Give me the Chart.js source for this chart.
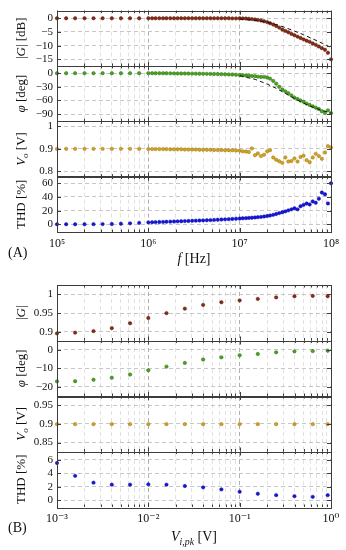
<!DOCTYPE html>
<html>
<head>
<meta charset="utf-8">
<script src="https://cdn.jsdelivr.net/npm/chart.js@4.4.1/dist/chart.umd.min.js"></script>
<style>
  body { margin: 0; background: #fff; width: 346px; height: 550px; position: relative; overflow: hidden; font-family: "Liberation Serif", serif; }
  canvas { position: absolute; left: 0; }
  #chartA { top: 0; }
  #chartB { top: 270px; }
  .tag { position: absolute; left: 8px; font-size: 14px; color: #111; }
</style>
</head>
<body>
<canvas id="chartA" width="346" height="268"></canvas>
<canvas id="chartB" width="346" height="280"></canvas>
<div class="tag" style="top:245px">(A)</div>
<div class="tag" style="top:520px">(B)</div>
<script>
// (A) frequency sweep
const freqA = [
  1e5, 1.26e5, 1.58e5, 2e5, 2.51e5, 3.16e5, 3.98e5, 5.01e5, 6.31e5, 7.94e5,
  1e6, 1.1e6, 1.2e6, 1.32e6, 1.45e6, 1.58e6, 1.74e6, 1.91e6, 2.09e6, 2.29e6, 2.51e6, 2.75e6, 3.02e6,
  3.31e6, 3.63e6, 3.98e6, 4.37e6, 4.79e6, 5.25e6, 5.75e6, 6.31e6, 6.92e6, 7.59e6, 8.32e6, 9.12e6,
  1e7, 1.08e7, 1.17e7, 1.26e7, 1.36e7, 1.47e7, 1.58e7, 1.71e7, 1.85e7, 2e7, 2.15e7, 2.33e7, 2.51e7,
  2.71e7, 2.93e7, 3.16e7, 3.41e7, 3.69e7, 3.98e7, 4.3e7, 4.64e7, 5.01e7, 5.41e7, 5.84e7, 6.31e7,
  6.81e7, 7.36e7, 7.94e7, 8.58e7, 9.26e7, 1e8
];
const gainA = [
  0, 0, 0, 0, 0, 0, 0, 0, 0, 0,
  0, 0, 0, 0, 0, 0, 0, 0, 0, 0, 0, 0, 0, 0, 0, 0, 0, 0, 0, 0, 0, 0, 0, -0.05, -0.05,
  0, -0.05, -0.1, -0.2, -0.3, -0.45, -0.6, -0.8, -1.1, -1.4, -1.8, -2.3, -2.8, -3.4, -4.1, -4.6,
  -5.1, -5.7, -6.2, -6.7, -7.2, -7.7, -8.2, -8.6, -9.2, -9.7, -10.3, -10.9, -11.5, -12.6, -15.0
];
const phaseA = [
  0, 0, 0, 0, 0, 0, 0, 0, 0, 0,
  0, 0, 0, 0, 0, -0.2, -0.3, -0.4, -0.5, -0.6, -0.7, -0.8, -0.9, -1, -1.1, -1.2, -1.4, -1.5, -1.7,
  -1.9, -2.1, -2.4, -2.7, -3.0, -3.4,
  -4, -4.5, -5, -5.5, -6, -6.5, -7.5, -8.5, -8, -9.5, -12, -17, -23, -30, -36, -40, -44, -49, -54,
  -57, -60, -63, -67, -70, -73, -76, -79, -84, -87, -82, -88
];
const voA = [
  0.9, 0.9, 0.9, 0.9, 0.9, 0.9, 0.9, 0.9, 0.9, 0.9,
  0.899, 0.899, 0.899, 0.899, 0.899, 0.899, 0.898, 0.898, 0.898, 0.898, 0.897, 0.897, 0.897,
  0.897, 0.896, 0.896, 0.896, 0.896, 0.895, 0.895, 0.895, 0.894, 0.894, 0.894, 0.893,
  0.892, 0.889, 0.888, 0.886, 0.902, 0.872, 0.880, 0.868, 0.874, 0.889, 0.894, 0.862, 0.852,
  0.845, 0.838, 0.862, 0.844, 0.846, 0.858, 0.844, 0.864, 0.870, 0.850, 0.841, 0.862, 0.878,
  0.868, 0.856, 0.884, 0.912, 0.906
];
const thdA = [
  0.3, 0.3, 0.3, 0.3, 0.4, 0.5, 0.6, 1.0, 1.6, 2.3,
  3.0, 3.2, 3.4, 3.5, 3.7, 3.9, 4.1, 4.3, 4.5, 4.7, 4.9, 5.1, 5.3, 5.5, 5.7, 5.9, 6.1, 6.3, 6.6,
  6.9, 7.1, 7.4, 7.7, 8.0, 8.3,
  8.6, 9.0, 9.2, 9.5, 9.8, 10.2, 10.6, 11.0, 11.6, 12.2, 13.0, 14.0, 15.2, 16.5, 17.8, 19.0,
  20.5, 22.0, 23.5, 22.0, 26.5, 28.5, 30.5, 29.0, 33.5, 31.5, 37.5, 46.5, 44.0, 30.5, 60
];
// model curves (dashed)
const fitFreq = [1e7, 1.5e7, 2e7, 2.5e7, 3e7, 4e7, 5e7, 6e7, 7e7, 8e7, 9e7, 1e8];
const fitGain = [-0.3, -0.8, -1.5, -2.3, -3.1, -4.7, -6.0, -7.2, -8.2, -9.1, -9.9, -10.7];
const fitPhase = [-5.5, -14, -24, -33, -42, -56, -66, -73, -78, -82, -85, -88];

// (B) amplitude sweep
const vinB = [0.001, 0.00158, 0.00251, 0.00398, 0.00631, 0.01, 0.0158, 0.0251, 0.0398, 0.0631, 0.1, 0.158, 0.251, 0.398, 0.631, 0.92];
const gainB = [0.896, 0.898, 0.902, 0.910, 0.923, 0.937, 0.950, 0.962, 0.972, 0.979, 0.984, 0.988, 0.992, 0.995, 0.996, 0.995];
const phaseB = [-17.1, -17.0, -16.2, -15.1, -13.4, -11.1, -9.1, -7.1, -5.3, -4.1, -3.0, -2.3, -1.4, -0.9, -0.7, -0.5];
const voB = [0.899, 0.899, 0.899, 0.899, 0.899, 0.899, 0.899, 0.899, 0.899, 0.899, 0.899, 0.899, 0.899, 0.899, 0.899, 0.899];
const thdB = [5.5, 3.6, 2.6, 2.3, 2.3, 2.35, 2.3, 2.1, 1.9, 1.6, 1.25, 0.95, 0.75, 0.6, 0.5, 0.75];

// tick labels
const decadesA = [5, 6, 7, 8];
const decadeLabelsA = ['10\u2075', '10\u2076', '10\u2077', '10\u2078'];
const decadesB = [-3, -2, -1, 0];
const decadeLabelsB = ['10\u207B\u00B3', '10\u207B\u00B2', '10\u207B\u00B9', '10\u2070'];
const ticksGainA = [-15, -10, -5, 0];
const ticksPhaseA = [-90, -60, -30, 0];
const ticksVoA = [0.8, 0.9, 1];
const ticksThdA = [0, 20, 40, 60];
const ticksGainB = [0.9, 0.95, 1];
const ticksPhaseB = [-20, -10, 0];
const ticksVoB = [0.85, 0.9, 0.95];
const ticksThdB = [0, 2, 4, 6];

const SERIF = '"Liberation Serif", "DejaVu Serif", serif';
const INK = '#111';

function isDecade(v) {
  const l = Math.log10(v);
  return Math.abs(l - Math.round(l)) < 1e-6;
}

// log grid: 1..9 x 10^e
function logTicks(lo, hi) {
  const out = [];
  for (let e = lo; e < hi; e++) for (let m = 1; m < 10; m++) out.push(m * Math.pow(10, e));
  out.push(Math.pow(10, hi));
  return out;
}

// draws a title made of normal / italic / subscript parts
function rich(ctx, parts, x, y, rot, size) {
  ctx.save();
  ctx.translate(x, y);
  ctx.rotate(rot);
  const fontOf = p => (p.it ? 'italic ' : '') + (p.sub ? size * 0.7 : size) + 'px ' + SERIF;
  let w = 0;
  parts.forEach(p => { ctx.font = fontOf(p); w += ctx.measureText(p.t).width; });
  let cx = -w / 2;
  ctx.fillStyle = INK;
  ctx.textBaseline = 'alphabetic';
  parts.forEach(p => {
    ctx.font = fontOf(p);
    ctx.fillText(p.t, cx, size * 0.35 + (p.sub ? size * 0.28 : 0));
    cx += ctx.measureText(p.t).width;
  });
  ctx.restore();
}

// frame around each panel, inward ticks, titles
const framePlugin = {
  id: 'frame',
  afterDraw(chart) {
    const { ctx, chartArea: a, scales } = chart;
    const info = chart.config.options.titles;
    const xs = scales.x;
    ctx.save();
    ctx.strokeStyle = '#3c3c3c';
    ctx.lineWidth = 1;
    info.panels.forEach(p => {
      const s = scales[p.id];
      ctx.beginPath();
      xs.ticks.forEach(t => {
        const x = Math.round(xs.getPixelForValue(t.value)) + 0.5;
        const len = isDecade(t.value) ? 4 : 2.5;
        ctx.moveTo(x, s.top); ctx.lineTo(x, s.top + len);
        ctx.moveTo(x, s.bottom); ctx.lineTo(x, s.bottom - len);
      });
      s.ticks.forEach(t => {
        const y = Math.round(s.getPixelForValue(t.value)) + 0.5;
        ctx.moveTo(a.left, y); ctx.lineTo(a.left + 4, y);
        ctx.moveTo(a.right, y); ctx.lineTo(a.right - 4, y);
      });
      ctx.stroke();
      ctx.strokeRect(Math.round(a.left) + 0.5, Math.round(s.top) + 0.5, Math.round(a.right - a.left), Math.round(s.bottom - s.top));
      rich(ctx, p.title, info.yTitleX, (s.top + s.bottom) / 2, -Math.PI / 2, 13);
    });
    rich(ctx, info.xTitle, (a.left + a.right) / 2, info.xTitleY, 0, 14);
    ctx.restore();
  }
};

function yAxis(min, max, ticks) {
  return {
    type: 'linear', position: 'left', stack: 'panels', stackWeight: 1, min: min, max: max,
    afterBuildTicks: s => { s.ticks = ticks.map(v => ({ value: v })); },
    afterFit: s => { s.width = 47; },
    grid: { color: '#b9b9b9', lineWidth: 0.8, drawTicks: false },
    border: { display: false, dash: [4, 3] },
    ticks: {
      autoSkip: false, padding: 4, color: INK, font: { family: SERIF, size: 11 },
      callback: v => String(v).replace('-', '\u2212')
    }
  };
}

function build(id, cfg) {
  const datasets = [];
  cfg.fits.forEach(f => datasets.push({
    type: 'line', data: f.xs.map((x, i) => ({ x: x, y: f.ys[i] })), yAxisID: f.axis,
    borderColor: '#111', borderWidth: 1, borderDash: [4, 3], pointRadius: 0, fill: false, clip: false
  }));
  cfg.panels.forEach(p => datasets.push({
    data: cfg.xs.map((x, i) => ({ x: x, y: p.ys[i] })), yAxisID: p.id,
    backgroundColor: p.color, borderColor: p.edge, borderWidth: 0.5, pointRadius: 1.7, clip: false
  }));

  const scales = {
    x: {
      type: 'logarithmic', min: cfg.xMin, max: cfg.xMax,
      afterBuildTicks: s => { s.ticks = cfg.grid.map(v => ({ value: v })); },
      afterFit: s => { s.height = 34; },
      grid: { color: c => isDecade(c.tick.value) ? '#9a9a9a' : '#dadada', lineWidth: 0.8, drawTicks: false },
      border: { display: false, dash: [4, 3] },
      ticks: {
        autoSkip: false, maxRotation: 0, padding: 5, color: INK, font: { family: SERIF, size: 12 },
        callback: v => {
          if (!isDecade(v)) return '';
          const i = cfg.decades.indexOf(Math.round(Math.log10(v)));
          return i < 0 ? '' : cfg.decadeLabels[i];
        }
      }
    }
  };
  // stacked axes are laid out last-defined on top
  cfg.panels.slice().reverse().forEach(p => { scales[p.id] = yAxis(p.min, p.max, p.ticks); });

  new Chart(document.getElementById(id), {
    type: 'scatter',
    data: { datasets: datasets },
    options: {
      responsive: false, animation: false, devicePixelRatio: 1,
      layout: { padding: cfg.padding },
      plugins: { legend: { display: false }, tooltip: { enabled: false } },
      scales: scales,
      titles: { panels: cfg.panels, yTitleX: 20, xTitle: cfg.xTitle, xTitleY: cfg.xTitleY }
    },
    plugins: [framePlugin]
  });
}

const gainTitle = [{ t: '|' }, { t: 'G', it: 1 }, { t: '| [dB]' }];
const phaseTitle = [{ t: '\u03C6', it: 1 }, { t: ' [deg]' }];
const voTitle = [{ t: 'V', it: 1 }, { t: 'o', it: 1, sub: 1 }, { t: ' [V]' }];
const thdTitle = [{ t: 'THD [%]' }];

build('chartA', {
  xs: freqA, xMin: 1e5, xMax: 1e8, grid: logTicks(5, 8),
  decades: decadesA, decadeLabels: decadeLabelsA,
  padding: { left: 10, right: 15, top: 8, bottom: 2 },
  xTitle: [{ t: 'f', it: 1 }, { t: ' [Hz]' }], xTitleY: 258,
  panels: [
    { id: 'yG', ys: gainA, min: -17.4, max: 2.8, ticks: ticksGainA, color: '#8e2a12', edge: '#4d1608', title: gainTitle },
    { id: 'yP', ys: phaseA, min: -106, max: 16, ticks: ticksPhaseA, color: '#45a81c', edge: '#2b6610', title: phaseTitle },
    { id: 'yV', ys: voA, min: 0.777, max: 1.022, ticks: ticksVoA, color: '#d4a21c', edge: '#9a7410', title: voTitle },
    { id: 'yT', ys: thdA, min: -11, max: 69.6, ticks: ticksThdA, color: '#1414e6', edge: '#0a0a9a', title: thdTitle }
  ],
  fits: [
    { xs: fitFreq, ys: fitGain, axis: 'yG' },
    { xs: fitFreq, ys: fitPhase, axis: 'yP' }
  ]
});

build('chartB', {
  xs: vinB, xMin: 1e-3, xMax: 1, grid: logTicks(-3, 0),
  decades: decadesB, decadeLabels: decadeLabelsB,
  padding: { left: 10, right: 15, top: 15, bottom: 9 },
  xTitle: [{ t: 'V', it: 1 }, { t: 'i,pk', it: 1, sub: 1 }, { t: ' [V]' }], xTitleY: 266,
  panels: [
    { id: 'yG', ys: gainB, min: 0.877, max: 1.025, ticks: ticksGainB, color: '#8e2a12', edge: '#4d1608', title: [{ t: '|' }, { t: 'G', it: 1 }, { t: '|' }] },
    { id: 'yP', ys: phaseB, min: -25, max: 5, ticks: ticksPhaseB, color: '#45a81c', edge: '#2b6610', title: phaseTitle },
    { id: 'yV', ys: voB, min: 0.826, max: 0.974, ticks: ticksVoB, color: '#d4a21c', edge: '#9a7410', title: voTitle },
    { id: 'yT', ys: thdB, min: -1, max: 7.2, ticks: ticksThdB, color: '#1414e6', edge: '#0a0a9a', title: thdTitle }
  ],
  fits: []
});
</script>
</body>
</html>
